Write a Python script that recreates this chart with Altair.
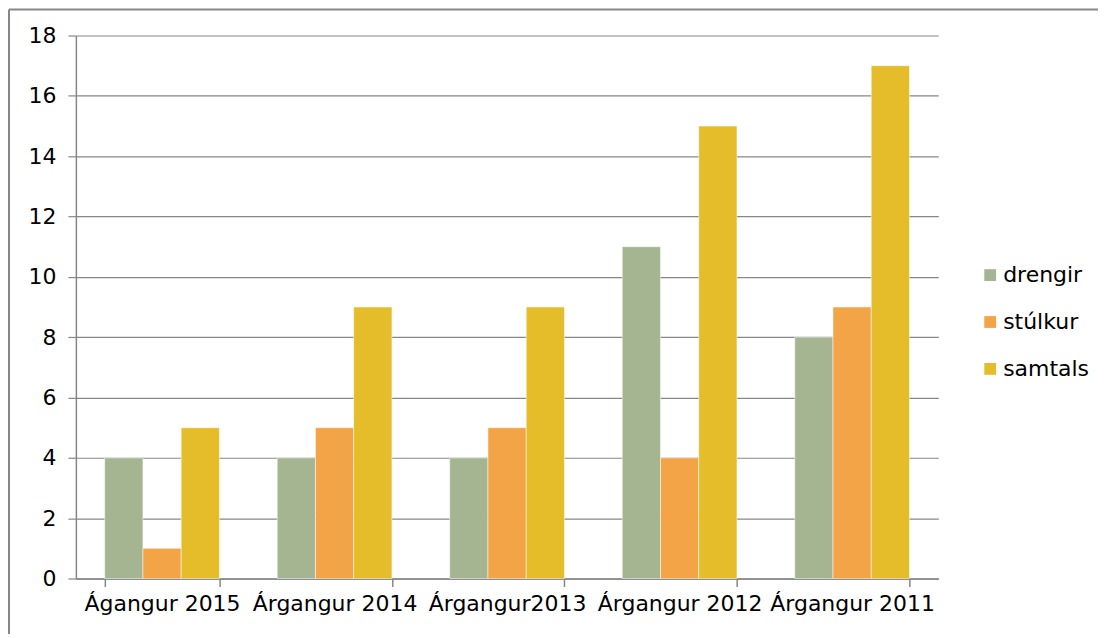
import altair as alt
import pandas as pd

categories = ["Ágangur 2015", "Árgangur 2014", "Árgangur2013", "Árgangur 2012", "Árgangur 2011"]
series = ["drengir", "stúlkur", "samtals"]
drengir = [4, 4, 4, 11, 8]
stulkur = [1, 5, 5, 4, 9]
samtals = [5, 9, 9, 15, 17]
colors = ["#A5B592", "#F3A447", "#E5BD2B"]

rows = []
for i, c in enumerate(categories):
    for s, vals in zip(series, [drengir, stulkur, samtals]):
        rows.append({"cat": c, "series": s, "value": vals[i]})
df = pd.DataFrame(rows)

FONT = "DejaVu Sans"
FS = 22
W, H = 864, 544

bars = alt.Chart(df).mark_bar(stroke="white", strokeWidth=0.5).encode(
    x=alt.X("cat:N", sort=categories, title=None,
            scale=alt.Scale(paddingInner=0.335, paddingOuter=0.167),
            axis=alt.Axis(labelAngle=0, tickBand="extent", labelFontSize=FS,
                          labelColor="#000000", labelFont=FONT, domainColor="#878787",
                          tickColor="#878787", tickSize=8, labelPadding=7, ticks=True,
                          grid=False, domainWidth=1.5, tickWidth=1.5, labelOverlap=False)),
    xOffset=alt.XOffset("series:N", sort=series),
    y=alt.Y("value:Q", title=None,
            scale=alt.Scale(domain=[0, 18]),
            axis=alt.Axis(values=list(range(0, 19, 2)), labelFontSize=FS, labelFont=FONT,
                          labelColor="#000000", domainColor="#878787", tickColor="#878787",
                          tickSize=8, labelPadding=12, gridColor="#878787", gridWidth=1.2,
                          domainWidth=1.5, ticks=True, tickWidth=1.2)),
    color=alt.Color("series:N", sort=series, title=None,
                    scale=alt.Scale(domain=series, range=colors),
                    legend=alt.Legend(orient="none", legendX=905, legendY=229,
                                      symbolType="square", symbolSize=140,
                                      symbolStrokeWidth=0, labelFontSize=FS,
                                      labelFont=FONT, labelColor="#000000",
                                      rowPadding=25, labelOffset=2)),
)

border = pd.DataFrame({"a": [0]})
top_line = alt.Chart(border).mark_rule(color="#878787", strokeWidth=2).encode(
    x=alt.value(-67), x2=alt.value(1030), y=alt.value(-26), y2=alt.value(-26))
left_line = alt.Chart(border).mark_rule(color="#878787", strokeWidth=2).encode(
    x=alt.value(-67), x2=alt.value(-67), y=alt.value(-26), y2=alt.value(610))

chart = alt.layer(bars, top_line, left_line).properties(
    width=W, height=H,
    view=alt.ViewBackground(stroke=None, strokeWidth=0),
    autosize=alt.AutoSizeParams(type="none"),
    padding={"left": 68, "top": 27, "right": 160, "bottom": 55},
).configure(background="white").configure_view(stroke=None, strokeWidth=0
).configure_axisX(grid=False)

chart.save("out.html", embed_options={"renderer": "svg", "actions": False})
